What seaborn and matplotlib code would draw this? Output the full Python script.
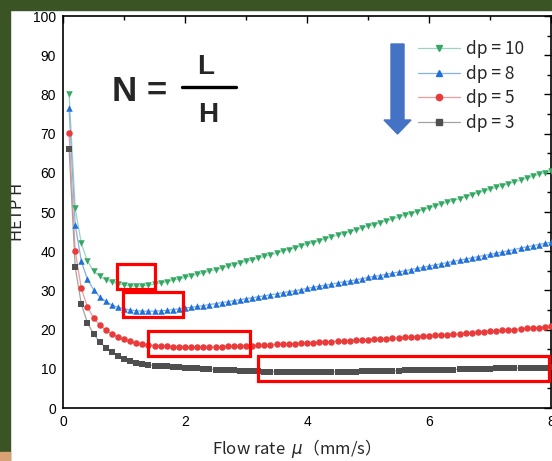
import numpy as np
import pandas as pd
import matplotlib
matplotlib.use("Agg")
import matplotlib.pyplot as plt
import seaborn as sns
from matplotlib.lines import Line2D
from matplotlib.patches import Rectangle, Polygon
from matplotlib.ticker import MultipleLocator

# --------------------------------
# Data
# --------------------------------

flow = np.round(np.arange(1, 81) * 0.1, 1)

hetp_dp10 = [
    80.0, 51.0, 42.0, 37.5, 35.0, 33.6, 32.7, 32.1, 31.7, 31.4,
    31.2, 31.1, 31.1, 31.3, 31.6, 31.9, 32.2, 32.6, 32.9, 33.3,
    33.7, 34.1, 34.5, 34.9, 35.3, 35.7, 36.1, 36.5, 37.0, 37.4,
    37.8, 38.2, 38.7, 39.1, 39.5, 40.0, 40.4, 40.9, 41.3, 41.8,
    42.2, 42.7, 43.1, 43.6, 44.1, 44.5, 45.0, 45.4, 45.9, 46.4,
    46.8, 47.3, 47.8, 48.2, 48.7, 49.2, 49.6, 50.1, 50.6, 51.0,
    51.5, 52.0, 52.5, 52.9, 53.4, 53.9, 54.4, 54.9, 55.3, 55.8,
    56.3, 56.7, 57.2, 57.7, 58.1, 58.6, 59.1, 59.6, 60.0, 60.5,
]
hetp_dp8 = [
    76.5, 46.7, 37.5, 32.8, 30.2, 28.4, 27.2, 26.3, 25.7, 25.3,
    25.0, 24.8, 24.7, 24.7, 24.7, 24.8, 24.9, 25.1, 25.3, 25.5,
    25.7, 25.9, 26.1, 26.4, 26.6, 26.9, 27.1, 27.4, 27.6, 27.9,
    28.1, 28.4, 28.6, 28.9, 29.1, 29.4, 29.7, 29.9, 30.2, 30.5,
    30.8, 31.1, 31.3, 31.6, 31.9, 32.2, 32.4, 32.7, 33.0, 33.3,
    33.6, 33.8, 34.1, 34.4, 34.7, 35.0, 35.3, 35.6, 35.9, 36.2,
    36.5, 36.8, 37.1, 37.4, 37.7, 38.0, 38.3, 38.6, 38.9, 39.2,
    39.5, 39.8, 40.1, 40.4, 40.8, 41.1, 41.4, 41.7, 42.0, 42.3,
]
hetp_dp5 = [
    70.2, 40.1, 30.5, 25.8, 23.0, 21.2, 19.9, 18.9, 18.1, 17.5,
    17.0, 16.6, 16.3, 16.1, 15.9, 15.8, 15.7, 15.6, 15.6, 15.5,
    15.5, 15.5, 15.5, 15.5, 15.6, 15.6, 15.7, 15.7, 15.8, 15.8,
    15.9, 16.0, 16.0, 16.1, 16.2, 16.2, 16.3, 16.4, 16.5, 16.6,
    16.7, 16.8, 16.8, 16.9, 17.0, 17.1, 17.2, 17.3, 17.3, 17.4,
    17.5, 17.6, 17.7, 17.8, 17.9, 18.0, 18.1, 18.2, 18.3, 18.4,
    18.5, 18.6, 18.7, 18.8, 19.0, 19.1, 19.2, 19.3, 19.4, 19.6,
    19.7, 19.8, 19.9, 20.0, 20.2, 20.3, 20.4, 20.5, 20.6, 20.8,
]
hetp_dp3 = [
    66.0, 36.0, 26.5, 21.8, 18.9, 16.9, 15.4, 14.2, 13.3, 12.6,
    12.0, 11.6, 11.2, 11.0, 10.8, 10.7, 10.6, 10.5, 10.4, 10.3,
    10.2, 10.1, 10.0, 9.9, 9.8, 9.7, 9.7, 9.6, 9.5, 9.5,
    9.4, 9.4, 9.3, 9.3, 9.3, 9.2, 9.2, 9.2, 9.2, 9.2,
    9.2, 9.2, 9.2, 9.2, 9.3, 9.3, 9.3, 9.3, 9.4, 9.4,
    9.4, 9.4, 9.5, 9.5, 9.5, 9.6, 9.6, 9.6, 9.7, 9.7,
    9.7, 9.8, 9.8, 9.8, 9.9, 9.9, 9.9, 10.0, 10.0, 10.0,
    10.1, 10.1, 10.1, 10.2, 10.2, 10.2, 10.3, 10.3, 10.3, 10.4,
]

labels = ["dp = 10", "dp = 8", "dp = 5", "dp = 3"]
series = [hetp_dp10, hetp_dp8, hetp_dp5, hetp_dp3]

df = pd.concat(
    [pd.DataFrame({"flow": flow, "hetp": s, "dp": lab}) for lab, s in zip(labels, series)],
    ignore_index=True,
)

# --------------------------------
# Styles
# --------------------------------

marker_col = {"dp = 10": "#34a863", "dp = 8": "#2070d8", "dp = 5": "#ea3b3b", "dp = 3": "#4f4f4f"}
line_col = {"dp = 10": "#9ad6bf", "dp = 8": "#86b0ea", "dp = 5": "#f09c9c", "dp = 3": "#a3a3a3"}
markers = {"dp = 10": "v", "dp = 8": "^", "dp = 5": "o", "dp = 3": "s"}

sns.set_style("white")
plt.rcParams["font.family"] = ["Liberation Sans", "DejaVu Sans"]

W, H = 552, 461
fig = plt.figure(figsize=(W / 100, H / 100), dpi=100)
fig.patch.set_facecolor("white")

def fx(px):
    return px / W

def fy(py):
    return 1 - py / H

# green slide background strips
fig.patches.append(Rectangle((0, fy(10)), 1, 1 - fy(10), transform=fig.transFigure,
                             color="#3b5424", zorder=0))
fig.patches.append(Rectangle((0, 0), fx(10), 1, transform=fig.transFigure,
                             color="#3b5424", zorder=0))
fig.patches.append(Rectangle((0, 0), fx(10), fy(452), transform=fig.transFigure,
                             color="#d9a274", zorder=0))

ax = fig.add_axes([fx(63), 1 - 408 / H, fx(551) - fx(63), (408 - 16) / H])

sns.lineplot(data=df, x="flow", y="hetp", hue="dp", palette=line_col,
             linewidth=0.9, legend=False, ax=ax, zorder=2)
for lab in labels:
    sub = df[df["dp"] == lab]
    sns.scatterplot(data=sub, x="flow", y="hetp", color=marker_col[lab],
                    marker=markers[lab], s=22, linewidth=0, legend=False,
                    ax=ax, zorder=3)

ax.set_xlim(0, 8)
ax.set_ylim(0, 100)
ax.xaxis.set_major_locator(MultipleLocator(2))
ax.xaxis.set_minor_locator(MultipleLocator(1))
ax.yaxis.set_major_locator(MultipleLocator(10))
ax.yaxis.set_minor_locator(MultipleLocator(5))
ax.tick_params(which="both", direction="in", top=True, right=True,
               colors="black", labelsize=10, width=1)
ax.tick_params(which="major", length=5, pad=5)
ax.tick_params(which="minor", length=3)
for sp in ax.spines.values():
    sp.set_color("black")
    sp.set_linewidth(1.2)

ax.set_xlabel("Flow rate  $\\mu$（mm/s）", fontsize=12,
              family=["Noto Sans CJK JP", "DejaVu Sans"])
ax.set_ylabel("HETP H", fontsize=12, family=["Noto Sans CJK JP", "DejaVu Sans"])
ax.xaxis.set_label_coords(0.468, -0.075)
ax.yaxis.set_label_coords(-0.076, 0.5)

# red highlight boxes
boxes = [
    (0.88, 30.4, 1.51, 36.7),
    (0.98, 23.2, 1.96, 29.6),
    (1.39, 13.3, 3.06, 19.6),
    (3.19, 6.9, 7.97, 13.3),
]
for x0, y0, x1, y1 in boxes:
    ax.add_patch(Rectangle((x0, y0), x1 - x0, y1 - y0, fill=False,
                           edgecolor="#ff0000", linewidth=2.3, zorder=5, clip_on=False))

# legend
handles = [
    Line2D([], [], color=line_col[lab], linewidth=0.9, marker=markers[lab],
           markerfacecolor=marker_col[lab], markeredgecolor=marker_col[lab], markersize=4.5)
    for lab in labels
]
ax.legend(handles, labels, loc="upper left", bbox_to_anchor=(fx(418), fy(40)),
          bbox_transform=fig.transFigure, frameon=False,
          handlelength=2.4, handletextpad=0.35, labelspacing=0.38,
          borderpad=0, borderaxespad=0,
          prop={"family": ["Noto Sans CJK JP", "DejaVu Sans"], "size": 12.5})

# N = L / H formula
fig.text(fx(112), fy(101), "N =", fontsize=25, fontweight="bold",
         ha="left", va="baseline")
fig.text(fx(206), fy(74), "L", fontsize=20, fontweight="bold", ha="center", va="baseline")
fig.text(fx(208), fy(122), "H", fontsize=20, fontweight="bold", ha="center", va="baseline")
fig.lines.append(Line2D([fx(182), fx(236)], [fy(87), fy(87)], transform=fig.transFigure,
                        color="black", linewidth=2.4))

# blue arrow
arrow_px = [(391, 44), (404, 44), (404, 120), (411, 120), (397.5, 134), (384, 120), (391, 120)]
fig.patches.append(Polygon([(fx(a), fy(b)) for a, b in arrow_px], closed=True,
                           transform=fig.transFigure, color="#4472c4", zorder=6))

fig.savefig("out.png", dpi=100)
